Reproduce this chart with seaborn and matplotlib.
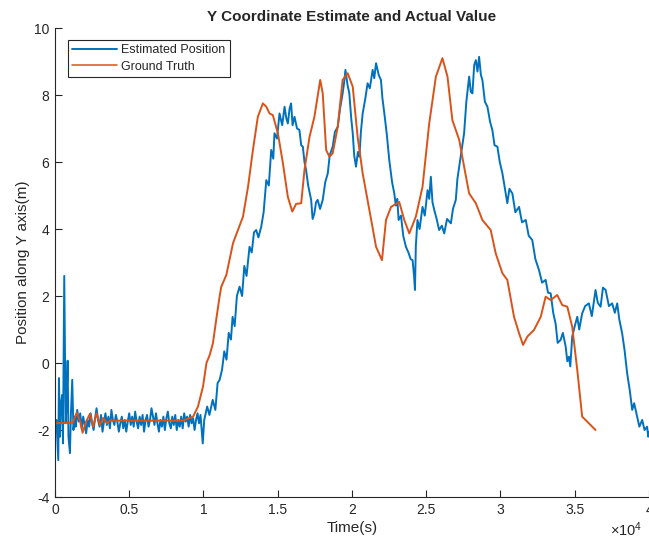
import numpy as np
import pandas as pd
import matplotlib
matplotlib.use("Agg")
import matplotlib.pyplot as plt
import seaborn as sns

# ---------------- data ----------------
est_t = [0, 100, 222, 269, 336, 403, 490, 538, 625, 719, 773, 853, 907, 1008, 1075, 1163, 1243, 1344,
         1400, 1500, 1600, 1700, 1800, 1900, 2000, 2100, 2200, 2300, 2400, 2500, 2600, 2700, 2800, 2900,
         3000, 3100, 3200, 3300, 3400, 3500, 3600, 3700, 3800, 3900, 4000, 4100, 4200, 4300, 4400, 4500,
         4600, 4700, 4800, 4900, 5000, 5100, 5200, 5300, 5400, 5500, 5600, 5700, 5800, 5900, 6000, 6100,
         6200, 6300, 6400, 6500, 6600, 6700, 6800, 6900, 7000, 7100, 7200, 7300, 7400, 7500, 7600, 7700,
         7800, 7900, 8000, 8100, 8200, 8300, 8400, 8500, 8600, 8700, 8800, 8900, 9000, 9100, 9200, 9300,
         9400, 9500, 9600, 9700, 9800, 9950,
         10050, 10250, 10400, 10620, 10800, 10950, 11090, 11250, 11400, 11550, 11700, 11850, 11960, 12100,
         12250, 12430, 12600, 12750, 12900, 13100, 13250, 13400, 13550, 13700, 13890, 14050, 14230, 14400,
         14560, 14700, 14780, 14950, 15120, 15300, 15460, 15580, 15680, 15800, 15900, 16000, 16130, 16300,
         16460, 16580, 16690, 16800, 16910, 17050, 17250, 17350, 17470, 17580, 17690, 17850, 18030, 18200,
         18370, 18500, 18700, 18850, 19040, 19200, 19370, 19450, 19560, 19700, 19820, 19950, 20050, 20150,
         20270, 20400, 20500, 20600, 20720, 20900, 21050, 21200, 21390, 21500, 21620, 21800, 21950, 22050,
         22180, 22350, 22510, 22700, 22850, 22950, 23050, 23140, 23300, 23450, 23630, 23800, 23950, 24080,
         24180, 24240, 24300, 24410, 24550, 24750, 24900, 25090, 25200, 25310, 25420, 25540, 25700, 25870,
         26050, 26210, 26400, 26660, 26800, 26990, 27100, 27220, 27400, 27550, 27700, 27890, 28000, 28110,
         28230, 28340, 28450, 28560, 28680, 28780, 28950, 29120, 29300, 29450, 29600, 29790, 29950, 30130,
         30300, 30460, 30600, 30800, 31000, 31250, 31450, 31700, 31900, 32140, 32350, 32590, 32800, 33040,
         33200, 33380, 33550, 33710, 33850, 34050, 34200, 34390, 34500, 34610, 34700, 34830, 35000, 35170,
         35300, 35500, 35700, 35950, 36150, 36400, 36550, 36740, 36900, 37080, 37300, 37520, 37700, 37860,
         38000, 38190, 38350, 38530, 38700, 38870, 39000, 39200, 39350, 39540, 39700, 39870, 39950, 40000]
est_y = [-1.8, -1.7, -2.9, -0.45, -2.2, -1.2, -0.95, -2.4, 2.6, -1.8, -1.3, 0.07, -2.2, -2.69, -1.5, -0.5, -2.0, -1.6,
         -1.9, -1.4, -1.75, -1.5, -1.95, -1.6, -1.85, -2.1, -1.7, -1.9, -1.5, -1.8, -2.0, -1.65, -1.35, -1.7,
         -1.9, -1.55, -2.05, -1.75, -1.5, -1.85, -1.6, -1.95, -1.4, -1.7, -1.85, -1.55, -1.75, -2.05, -1.8, -1.6,
         -1.95, -1.7, -2.05, -1.75, -1.5, -1.85, -1.6, -1.9, -1.45, -1.75, -1.95, -1.6, -1.85, -1.55, -2.05, -1.7,
         -1.55, -1.9, -1.7, -1.35, -1.6, -1.85, -1.5, -1.8, -2.05, -1.7, -1.9, -1.6, -2.0, -1.65, -1.45, -1.8,
         -1.95, -1.6, -1.85, -1.55, -2.0, -1.7, -1.9, -1.6, -1.95, -1.5, -1.75, -1.6, -1.9, -1.55, -1.8, -1.65,
         -2.0, -1.7, -1.5, -1.8, -1.55, -2.4,
         -1.7, -1.3, -1.55, -1.1, -1.4, -0.6, -0.5, -0.2, 0.35, 0.1, 0.9, 0.7, 1.38, 1.1,
         2.0, 2.28, 2.0, 2.9, 2.6, 3.47, 3.3, 3.9, 3.97, 3.75, 4.07, 4.5, 5.46, 5.3,
         6.36, 6.1, 6.86, 6.7, 7.45, 7.1, 7.65, 7.3, 7.15, 7.6, 7.75, 7.1, 7.35, 7.0,
         6.96, 6.5, 6.46, 6.0, 5.76, 5.3, 4.87, 4.3, 4.47, 4.8, 4.87, 4.6, 4.87, 5.4,
         5.66, 6.2, 6.46, 6.9, 7.05, 7.6, 8.05, 8.3, 8.75, 8.3, 8.05, 7.3, 6.86, 6.2,
         5.86, 6.3, 6.16, 6.9, 7.45, 7.9, 8.35, 8.2, 8.75, 8.5, 8.95, 8.6, 8.45, 7.9,
         7.45, 6.8, 6.06, 5.4, 5.06, 4.7, 4.9, 4.27, 4.4, 3.8, 3.47, 3.3, 3.1, 3.07,
         2.6, 2.18, 3.5, 4.27, 4.0, 4.66, 4.4, 5.16, 4.9, 5.56, 4.8, 4.57, 4.3, 3.97,
         4.1, 3.87, 4.3, 4.17, 4.6, 4.87, 5.5, 5.86, 6.4, 6.86, 7.8, 8.55, 8.1, 8.05,
         8.9, 9.04, 8.7, 9.14, 8.6, 8.45, 7.8, 7.65, 7.2, 6.96, 6.5, 6.46, 6.0, 5.66,
         5.2, 4.77, 5.2, 5.06, 4.5, 4.66, 4.2, 4.27, 3.8, 3.67, 3.1, 2.78, 2.4, 2.48,
         2.1, 2.08, 1.5, 1.18, 0.6, 0.69, 0.9, 0.49, 0.05, 0.19, -0.1, 0.79, 1.1, 1.38,
         1.0, 1.48, 1.7, 1.78, 1.4, 2.18, 1.8, 1.68, 2.25, 2.18, 1.7, 1.78, 1.5, 1.78,
         1.3, 0.89, 0.4, -0.31, -0.8, -1.4, -1.2, -1.6, -1.9, -1.7, -2.0, -1.9, -2.2, -2.05]

gt_t = [0, 1210, 1460, 1700, 1860, 2100, 2350, 2570, 2800, 3030, 3250, 3500, 3700, 5000, 8620, 9300,
        9630, 9970, 10200, 10420, 10640, 10860, 11090, 11200, 11540, 11990, 12660, 13000, 13330, 13660,
        14000, 14230, 14450, 14670, 15010, 15350, 15680, 15980, 16240, 16580, 16800, 17140, 17470, 17860,
        18030, 18260, 18480, 18700, 19040, 19370, 19710, 20050, 20380, 20720, 21170, 21620, 22020, 22290,
        22630, 23180, 23520, 23860, 24300, 24750, 25200, 25650, 26090, 26430, 26760, 27220, 27550, 27890,
        28340, 28780, 29340, 29680, 30130, 30460, 30910, 31250, 31520, 31810, 32260, 32710, 33040, 33380,
        33820, 34160, 34500, 34830, 35170, 35500, 35840, 36400]
gt_y = [-1.8, -1.78, -1.48, -1.75, -2.08, -1.75, -1.52, -1.9, -1.5, -1.85, -1.64, -1.8, -1.72, -1.72, -1.72, -1.6,
        -1.3, -0.7, 0.0, 0.24, 0.6, 1.3, 2.0, 2.28, 2.63, 3.58, 4.37, 5.26, 6.36, 7.35,
        7.75, 7.65, 7.45, 7.4, 6.86, 5.96, 4.96, 4.52, 4.75, 4.77, 5.76, 6.75, 7.35, 8.45,
        8.05, 6.36, 6.16, 6.26, 7.05, 8.45, 8.65, 8.25, 6.75, 5.66, 4.57, 3.47, 3.07, 4.27,
        4.66, 4.81, 4.27, 3.87, 4.37, 5.26, 7.15, 8.55, 9.1, 8.55, 7.25, 6.66, 5.86, 5.06,
        4.77, 4.27, 3.97, 3.27, 2.68, 2.48, 1.38, 0.89, 0.54, 0.79, 0.99, 1.38, 1.98, 1.88,
        2.03, 1.73, 1.68, 1.08, -0.21, -1.6, -1.75, -2.0]

series_names = ["Estimated Position", "Ground Truth"]
x_ticks = [0, 5000, 10000, 15000, 20000, 25000, 30000, 35000, 40000]
x_tick_labels = ["0", "0.5", "1", "1.5", "2", "2.5", "3", "3.5", "4"]
y_ticks = [-4, -2, 0, 2, 4, 6, 8, 10]

# ---------------- plot ----------------
sns.set_theme(style="ticks")
plt.rcParams["font.family"] = ["Liberation Sans", "DejaVu Sans"]
plt.rcParams["axes.unicode_minus"] = False
plt.rcParams["mathtext.fontset"] = "custom"
plt.rcParams["mathtext.rm"] = "Liberation Sans"
plt.rcParams["mathtext.it"] = "Liberation Sans"

df = pd.concat([
    pd.DataFrame({"t": est_t, "y": est_y, "series": series_names[0]}),
    pd.DataFrame({"t": gt_t, "y": gt_y, "series": series_names[1]}),
], ignore_index=True)

fig = plt.figure(figsize=(6.49, 5.40), dpi=100)
ax = fig.add_axes([0.0847, 0.0796, 0.9153, 0.8685])

sns.lineplot(data=df, x="t", y="y", hue="series", hue_order=series_names,
             palette=["#0072BD", "#D95319"], estimator=None, sort=False,
             linewidth=1.4, ax=ax)
for ln in ax.get_lines():
    if ln.get_label() == series_names[1]:
        ln.set_linewidth(1.1)

ax.set_xlim(0, 40000)
ax.set_ylim(-4, 10)
ax.set_xticks(x_ticks)
ax.set_xticklabels(x_tick_labels)
ax.set_yticks(y_ticks)
ax.tick_params(direction="in", length=5, width=0.8, labelsize=10, colors="#262626", pad=4)
sns.despine(ax=ax, top=True, right=True)
for s in ["left", "bottom"]:
    ax.spines[s].set_color("#262626")
    ax.spines[s].set_linewidth(0.8)

ax.set_xlabel("Time(s)", fontsize=11, labelpad=3)
ax.set_ylabel("Position along Y axis(m)", fontsize=11, labelpad=3)
ax.set_title("Y Coordinate Estimate and Actual Value", fontsize=11, fontweight="bold", pad=5)
ax.text(0.935, -0.069, "\u00d710$^4$", transform=ax.transAxes, fontsize=10.5,
        ha="left", va="center", color="#262626")

leg = ax.legend(loc="upper left", bbox_to_anchor=(0.022, 0.975), fontsize=9,
                frameon=True, fancybox=False, framealpha=1, edgecolor="#262626",
                handlelength=3.6, borderpad=0.35, labelspacing=0.35, handletextpad=0.3,
                borderaxespad=0)
leg.get_frame().set_linewidth(0.8)

fig.savefig("out.png", dpi=100)
